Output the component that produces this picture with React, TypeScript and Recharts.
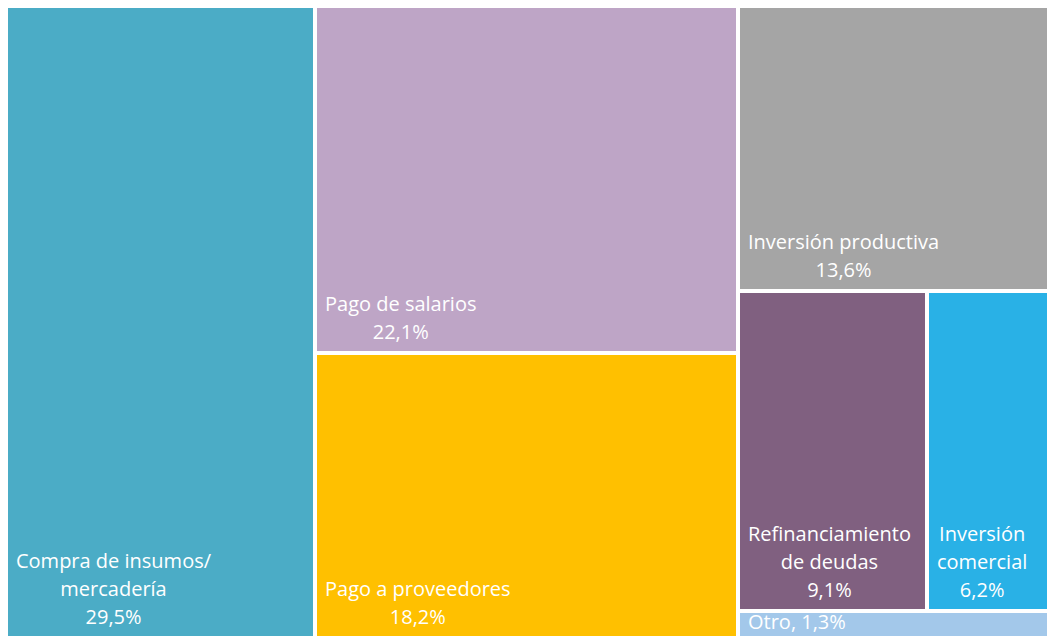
import { Treemap } from "recharts";

const categories = [
  "Compra de insumos/ mercadería",
  "Pago de salarios",
  "Pago a proveedores",
  "Inversión productiva",
  "Refinanciamiento de deudas",
  "Inversión comercial",
  "Otro",
];
const shares = [29.5, 22.1, 18.2, 13.6, 9.1, 6.2, 1.3];
const colors = ["#4BACC6", "#BEA5C6", "#FFC000", "#A5A5A5", "#806080", "#29B1E6", "#A3C8EA"];

const leaf = (i: number) => ({ name: categories[i], value: shares[i] });

// nesting only groups the cells so the squarify layout matches the original
const treeData = [
  leaf(0),
  {
    name: "resto",
    children: [
      { name: "pagos", children: [leaf(1), leaf(2)] },
      {
        name: "inversiones",
        children: [leaf(3), { name: "deudas", children: [leaf(4), leaf(5)] }, leaf(6)],
      },
    ],
  },
];

const FONT = '20px "Open Sans"';
const LINE = 28;
const PAD = 10;

let ctx: CanvasRenderingContext2D | null = null;
function measure(s: string) {
  if (!ctx) {
    ctx = document.createElement("canvas").getContext("2d");
    if (ctx) ctx.font = FONT;
  }
  return ctx ? ctx.measureText(s).width : s.length * 10;
}

function wrap(text: string, maxW: number) {
  const words = text.split(" ");
  const lines: string[] = [];
  let cur = "";
  words.forEach((w) => {
    const next = cur ? cur + " " + w : w;
    if (cur && measure(next) > maxW) {
      lines.push(cur);
      cur = w;
    } else {
      cur = next;
    }
  });
  if (cur) lines.push(cur);
  return lines;
}

const pct = (v: number) => v.toFixed(1).replace(".", ",") + "%";

function Cell(props: any) {
  const { x, y, width, height, name, value, children } = props;
  if (children && children.length) return null;
  const i = categories.indexOf(name);
  const fill = colors[i] ?? "#ccc";
  const textStyle = { fill: "#fff", fontFamily: "Open Sans", fontSize: 20 };

  let label;
  if (height < 60) {
    // too thin for stacked lines: one line, as in the original
    label = (
      <text x={x + PAD} y={y + 18} style={textStyle}>
        {`${name}, ${pct(value)}`}
      </text>
    );
  } else {
    const lines = [...wrap(name, width - 2 * PAD - 4), pct(value)];
    const blockW = Math.max(...lines.map(measure));
    const cx = x + PAD + blockW / 2;
    const lastY = y + height - 14.5;
    label = lines.map((l, k) => (
      <text
        key={k}
        x={cx}
        y={lastY - (lines.length - 1 - k) * LINE}
        textAnchor="middle"
        style={textStyle}
      >
        {l}
      </text>
    ));
  }

  return (
    <g>
      <rect x={x} y={y} width={width} height={height} fill={fill} stroke="#fff" strokeWidth={4} />
      {label}
    </g>
  );
}

export default function App() {
  return (
    <div
      style={{
        position: "fixed",
        left: 6,
        top: 6,
        width: 1041,
        height: 631,
        overflow: "hidden",
        background: "#fff",
      }}
    >
      <Treemap
        width={1049}
        height={632}
        data={treeData}
        dataKey="value"
        nameKey="name"
        aspectRatio={1.3}
        content={<Cell />}
        isAnimationActive={false}
      />
    </div>
  );
}
